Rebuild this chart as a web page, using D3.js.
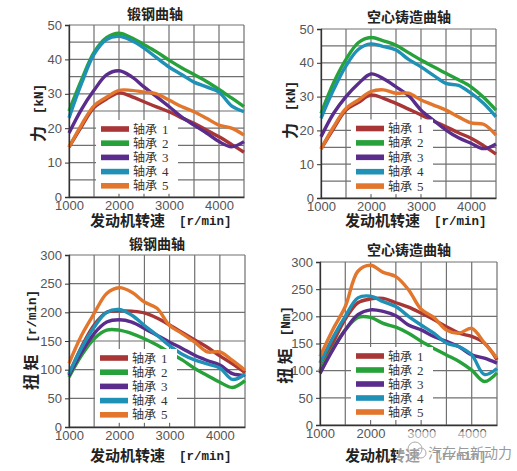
<!DOCTYPE html>
<html><head><meta charset="utf-8">
<script src="https://cdn.jsdelivr.net/npm/d3@7"></script>
<style>html,body{margin:0;padding:0;background:#fff;}svg{display:block;}</style>
</head><body>
<svg id="c" width="517" height="471"></svg>
<script>
// ---------- data ----------
const rpm = [1000,1250,1500,1750,2000,2250,2500,2750,3000,3250,3500,3750,4000,4250,4500];
const bearings = ["轴承 1","轴承 2","轴承 3","轴承 4","轴承 5"];
const xTicks = [1000,2000,3000,4000];
const forceTicks = [0,10,20,30,40,50];
const torqueTicks = [0,50,100,150,200,250,300];

// 锻钢曲轴 力 [kN]
const forgedForce = [
  [14.5,20.5,26,28.5,30.3,29.2,27.7,26.2,24.8,23,21.4,19.5,17.5,15.3,13],
  [25,34,42,46.3,47.6,46.3,44.3,42.2,39.8,37.6,35.6,33.6,31.3,28.8,26.3],
  [18.6,25.5,31,35.5,36.7,35,32,29.2,26.3,23.3,20.9,18.6,16.1,14.6,16.1],
  [23,33,41.5,45.8,46.7,45.5,43.3,40.5,37.8,35.6,33.4,32,30.5,26.5,24.8],
  [14.5,21,26.5,29,31,31,30.5,30,28.2,26.3,24.8,22.9,20.9,20,18]
];
// 空心铸造曲轴 力 [kN]
const castForce = [
  [14.5,20.5,26,28.3,30.5,29.5,28,26.3,24.6,22.8,21.1,19.3,17.7,15.5,13],
  [25,34,41,46,47.5,46.5,45.2,43,40.8,38.8,36.9,35,32.9,29.8,26],
  [18.1,25,30,33.9,36.7,35.3,32.9,30.3,26,23,20.1,17.8,16.2,14.6,16],
  [23.6,32,39.1,44,45.6,44.8,43.8,41,38.8,36.3,33.9,33.3,31,28,24],
  [14.5,21,26.5,29,31.5,32,31,31,29,27.5,26,24,22.2,21.8,18.6]
];
// 锻钢曲轴 扭矩
const forgedTorque = [
  [92,140,178,200,203,202,199,190,178,165,152,139,124,110,95],
  [87,125,154,169,169,163,154,143,130,117,102,90,78,69,81],
  [90,130,163,183,187,183,172,160,148,137,125,116,108,93,90],
  [93,138,174,200,205,195,177,160,142,127,117,110,103,83,92],
  [111,160,198,233,243,235,218,207,177,163,148,131,131,116,99]
];
// 空心铸造曲轴 扭矩 [Nm]
const castTorque = [
  [100,150,195,225,232,233,225,217,206,194,181,169,163,151,120],
  [101,140,175,198,198,187,180,169,154,141,129,117,101,80,96],
  [95,138,175,203,212,209,201,184,175,163,154,144,129,123,114],
  [114,160,200,234,237,227,218,200,184,169,151,144,129,93,104],
  [126,175,218,283,294,281,273,249,213,198,175,169,178,151,123]
];

const colors = ["#a83636","#27a13a","#5a2c8c","#1f90b6","#e2762c"];

// ---------- layout ----------
const panels = [
  {data: forgedForce, title:"锻钢曲轴", ymax:50, ticks:forceTicks, gridStep:5,
   x0:69, x1:244, y0:197, y1:25, titleX:155, titleY:15, xlabY:222, xlabX:90,
   ylabCN:"力", ylabU:"[kN]", ylabX:40, ylabY:113, legX:101, legY:129, legDY:14.2},
  {data: castForce, title:"空心铸造曲轴", ymax:50, ticks:forceTicks, gridStep:5,
   x0:321, x1:496, y0:198, y1:29, titleX:409, titleY:18, xlabY:222, xlabX:345,
   ylabCN:"力", ylabU:"[kN]", ylabX:292, ylabY:110, legX:356, legY:128.5, legDY:14.4},
  {data: forgedTorque, title:"锻钢曲轴", ymax:300, ticks:torqueTicks, gridStep:50,
   x0:69, x1:245, y0:427, y1:255, titleX:157, titleY:245, xlabY:457, xlabX:90,
   ylabCN:"扭 矩", ylabU:"[r/min]", ylabX:33, ylabY:340, legX:100, legY:358, legDY:14.2},
  {data: castTorque, title:"空心铸造曲轴", ymax:300, ticks:torqueTicks, gridStep:50,
   x0:320, x1:497, y0:425, y1:262, titleX:409, titleY:251, xlabY:457, xlabX:345,
   ylabCN:"扭 矩", ylabU:"[Nm]", ylabX:287, ylabY:345, legX:356, legY:356, legDY:14}
];

const svg = d3.select("#c");
const CN = "'Noto Sans CJK SC','Noto Sans',sans-serif";
const fmt = d => String(d);

panels.forEach(p => {
  const g = svg.append("g");
  const x = d3.scaleLinear().domain([1000,4500]).range([p.x0,p.x1]);
  const y = d3.scaleLinear().domain([0,p.ymax]).range([p.y0,p.y1]);

  // grid
  const gx = [1000,1500,2000,2500,3000,3500,4000,4500];
  const gy = p.ticks.concat(p.ticks.slice(0,-1).map(t=>t+p.gridStep/ (p.ymax===50?1:1) ));
  const gyAll = [];
  for (let v = 0; v <= p.ymax; v += p.gridStep) gyAll.push(v);
  g.append("g").selectAll("line").data(gx).join("line")
    .attr("x1",d=>x(d)).attr("x2",d=>x(d)).attr("y1",y(0)).attr("y2",y(p.ymax))
    .attr("stroke","#707070").attr("stroke-width",1.2);
  g.append("g").selectAll("line").data(gyAll).join("line")
    .attr("x1",x(1000)).attr("x2",x(4500)).attr("y1",d=>y(d)).attr("y2",d=>y(d))
    .attr("stroke","#707070").attr("stroke-width",1.2);

  // lines
  const line = d3.line().x((d,i)=>x(rpm[i])).y(d=>y(d)).curve(d3.curveCatmullRom.alpha(0.5));
  p.data.forEach((s,k)=>{
    g.append("path").attr("d",line(s)).attr("fill","none")
      .attr("stroke",colors[k]).attr("stroke-width",3.4).attr("stroke-linejoin","round");
  });

  // legend box
  g.append("rect").attr("x",p.legX-5).attr("y",p.legY-9)
    .attr("width",82).attr("height",p.legDY*4+17).attr("fill","#fff");
  bearings.forEach((b,k)=>{
    const yy = p.legY + k*p.legDY;
    g.append("rect").attr("x",p.legX).attr("y",yy-2.8).attr("width",28).attr("height",5.6)
      .attr("fill",colors[k]);
    g.append("text").attr("x",p.legX+32).attr("y",yy+4.5)
      .attr("font-family",CN).attr("font-size",12).attr("fill","#333").text(b.split(" ")[0]);
    g.append("text").attr("x",p.legX+61).attr("y",yy+4.5)
      .attr("font-family","'Liberation Serif',serif").attr("font-size",13).attr("fill","#333").text(b.split(" ")[1]);
  });

  // axes
  const ya = d3.axisLeft(y).tickValues(p.ticks).tickFormat(fmt).tickSize(4).tickPadding(3);
  const ag = g.append("g").attr("transform",`translate(${p.x0},0)`).call(ya);
  ag.select(".domain").attr("stroke","#333").attr("stroke-width",1.3);
  ag.selectAll(".tick line").attr("stroke","#333");
  ag.selectAll("text").attr("font-family","'Liberation Sans',Arial,sans-serif").attr("font-size",13).attr("fill","#555");
  const xa = d3.axisBottom(x).tickValues(xTicks).tickFormat(fmt).tickSize(0).tickPadding(4);
  const bg = g.append("g").attr("transform",`translate(0,${p.y0})`).call(xa);
  bg.select(".domain").attr("stroke","#333").attr("stroke-width",1.3);
  bg.selectAll("text").attr("font-family","'Liberation Sans',Arial,sans-serif").attr("font-size",13).attr("fill","#555");

  // title
  g.append("text").attr("x",p.titleX).attr("y",p.titleY).attr("text-anchor","middle")
    .attr("dominant-baseline","middle").attr("font-family",CN).attr("font-weight",700)
    .attr("font-size",14).attr("fill","#222").text(p.title);

  // x label
  const xl = g.append("text").attr("x",p.xlabX).attr("y",p.xlabY).attr("dominant-baseline","middle");
  xl.append("tspan").attr("font-family",CN).attr("font-weight",700).attr("font-size",15).attr("fill","#222").text("发动机转速");
  xl.append("tspan").attr("dx",14).attr("font-family","'Liberation Mono',monospace").attr("font-weight",700)
    .attr("font-size",12.5).attr("fill","#222").text("[r/min]");

  // y label
  const yl = g.append("text").attr("transform",`translate(${p.ylabX},${p.ylabY}) rotate(-90)`)
    .attr("text-anchor","middle").attr("dominant-baseline","middle");
  yl.append("tspan").attr("font-family",CN).attr("font-weight",700).attr("font-size",16).attr("fill","#222").text(p.ylabCN);
  yl.append("tspan").attr("dx",12).attr("font-family","'Liberation Mono',monospace").attr("font-weight",700)
    .attr("font-size",12.5).attr("fill","#222").text(p.ylabU);
});

// watermark
svg.append("rect").attr("x",398).attr("y",432).attr("width",119).attr("height",34).attr("fill","#fff").attr("opacity",0.55);
svg.append("circle").attr("cx",415).attr("cy",449).attr("r",7).attr("fill","none").attr("stroke","#aaa").attr("stroke-width",1);
svg.append("circle").attr("cx",421).attr("cy",453).attr("r",5).attr("fill","none").attr("stroke","#aaa").attr("stroke-width",1);
svg.append("text").attr("x",428).attr("y",454).attr("dominant-baseline","middle")
  .attr("font-family",CN).attr("font-size",14).attr("fill","#9a9a9a").text("汽车与新动力");
</script>
</body></html>
